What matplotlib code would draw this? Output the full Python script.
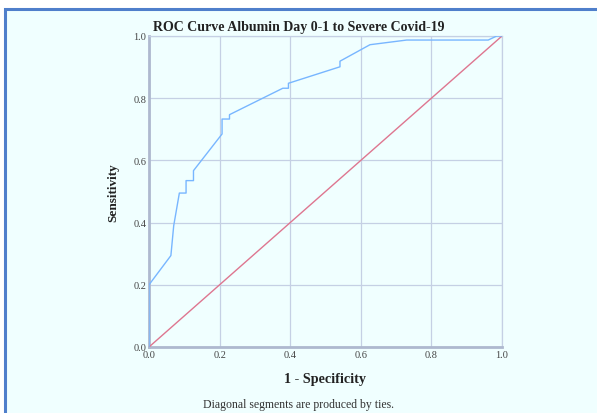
import matplotlib
matplotlib.use("Agg")
import matplotlib.pyplot as plt
from matplotlib.patches import Rectangle

# ROC curve (1 - specificity, sensitivity)
fpr = [0.0, 0.0, 0.062, 0.070, 0.086, 0.105, 0.105, 0.126, 0.126, 0.207, 0.207,
       0.228, 0.228, 0.379, 0.395, 0.395, 0.541, 0.541, 0.626, 0.730, 0.961, 0.985, 1.0]
tpr = [0.0, 0.200, 0.294, 0.390, 0.495, 0.495, 0.535, 0.535, 0.567, 0.685, 0.733,
       0.733, 0.747, 0.832, 0.832, 0.848, 0.901, 0.919, 0.972, 0.987, 0.987, 1.0, 1.0]
ref_line = [0.0, 1.0]
ticks = [0.0, 0.2, 0.4, 0.6, 0.8, 1.0]
tick_labels = ["0.0", "0.2", "0.4", "0.6", "0.8", "1.0"]

title = "ROC Curve Albumin Day 0-1 to Severe Covid-19"
xlabel = "1 - Specificity"
ylabel = "Sensitivity"
note = "Diagonal segments are produced by ties."

bg = "#F0FFFF"
grid_col = "#C5D0E4"
serif = ["Liberation Serif", "DejaVu Serif"]

fig = plt.figure(figsize=(5.97, 4.14), dpi=100)
fig.patch.set_facecolor("white")

# panel with blue border, running off the right and bottom edges
panel = Rectangle((5 / 597, -0.1), 1.2, 0.1 + (1 - 10 / 414),
                  transform=fig.transFigure, facecolor=bg,
                  edgecolor="#4F7FCB", linewidth=2.2, zorder=-10)
fig.patches.append(panel)

ax = fig.add_axes([149 / 597, 1 - 348 / 414, 353 / 597, 311 / 414])
ax.set_facecolor(bg)

ax.plot(ref_line, ref_line, color="#DE7690", linewidth=1.0, zorder=3)
ax.plot(fpr, tpr, color="#78B6FF", linewidth=1.0, zorder=4)

ax.set_xlim(0, 1)
ax.set_ylim(0, 1)
ax.set_xticks(ticks)
ax.set_yticks(ticks)
ax.set_xticklabels(tick_labels, family=serif, fontsize=7.5, color="#444444")
ax.set_yticklabels(tick_labels, family=serif, fontsize=7.5, color="#444444")
ax.tick_params(length=0, pad=2)
ax.grid(True, color=grid_col, linewidth=0.9)
ax.set_axisbelow(True)

for side in ["top", "right"]:
    ax.spines[side].set_color(grid_col)
    ax.spines[side].set_linewidth(0.9)
for side in ["left", "bottom"]:
    ax.spines[side].set_color("#AEB9CF")
    ax.spines[side].set_linewidth(2.0)

fig.text(0.5, 1 - 27 / 414, title, ha="center", va="center",
         family=serif, fontsize=10, fontweight="bold", color="#222222")
fig.text((149 + 502) / 2 / 597, 1 - 380 / 414, xlabel, ha="center", va="center",
         family=serif, fontsize=10.2, fontweight="bold", color="#222222")
fig.text(113 / 597, 1 - 193 / 414, ylabel, ha="center", va="center", rotation=90,
         family=serif, fontsize=9.5, fontweight="bold", color="#222222")
fig.text(0.5, 1 - 405 / 414, note, ha="center", va="center",
         family=serif, fontsize=8.5, color="#333333")

fig.savefig("out.png", dpi=100, facecolor=fig.get_facecolor())
